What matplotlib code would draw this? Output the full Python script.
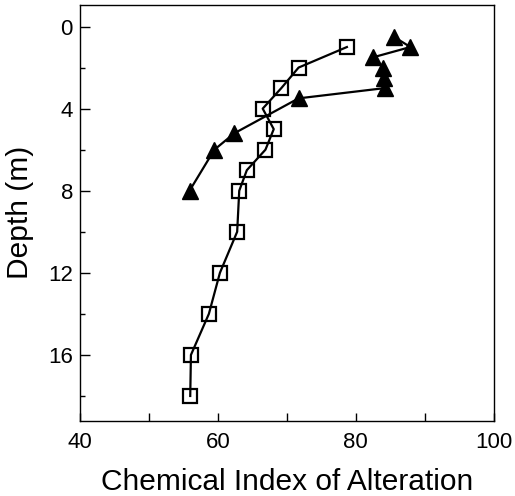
import matplotlib
matplotlib.use("Agg")
import matplotlib.pyplot as plt
from matplotlib.ticker import MultipleLocator

plt.rcParams["font.family"] = ["Liberation Sans", "DejaVu Sans"]

# open squares profile
sq_depth = [1, 2, 3, 4, 5, 6, 7, 8, 10, 12, 14, 16, 18]
sq_cia = [78.7, 71.7, 69.2, 66.5, 68.1, 66.9, 64.2, 63.1, 62.8, 60.3, 58.7, 56.1, 56.0]

# filled triangles profile
tri_depth = [0.5, 1.0, 1.5, 2.0, 2.5, 3.0, 3.5, 5.2, 6.0, 8.0]
tri_cia = [85.5, 87.9, 82.5, 84.0, 84.1, 84.2, 71.7, 62.4, 59.5, 55.9]

fig = plt.figure(figsize=(5.15, 4.96), dpi=100)
ax = fig.add_axes([0.155, 0.152, 0.804, 0.838])

ax.plot(sq_cia, sq_depth, color="black", lw=1.6, marker="s", ms=10,
        mfc="none", mec="black", mew=1.6)
ax.plot(tri_cia, tri_depth, color="black", lw=1.6, marker="^", ms=11,
        mfc="black", mec="black")

ax.set_xlim(40, 100)
ax.set_ylim(19.2, -1.05)

ax.xaxis.set_major_locator(MultipleLocator(20))
ax.xaxis.set_minor_locator(MultipleLocator(10))
ax.yaxis.set_major_locator(MultipleLocator(4))
ax.yaxis.set_minor_locator(MultipleLocator(2))
ax.tick_params(which="both", direction="in", width=1)
ax.tick_params(axis="x", which="both", length=6, pad=8)
ax.tick_params(axis="y", which="major", length=7, pad=5)
ax.tick_params(axis="y", which="minor", length=3.6)
ax.tick_params(which="major", labelsize=16)

for s in ax.spines.values():
    s.set_linewidth(1)

ax.set_xlabel("Chemical Index of Alteration", fontsize=21.5, labelpad=11)
ax.set_ylabel("Depth (m)", fontsize=21.5)
ax.yaxis.set_label_coords(-0.11, 0.5)

fig.savefig("out.png", dpi=100)
